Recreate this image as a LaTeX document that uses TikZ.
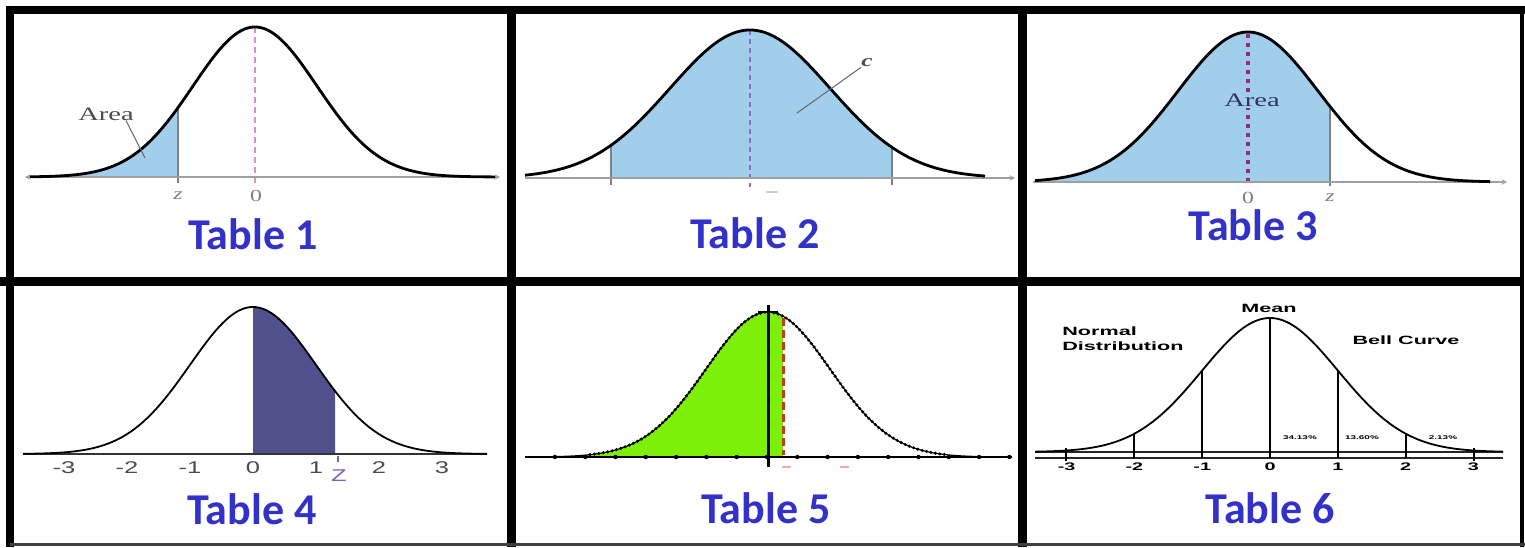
\documentclass[tikz,border=0pt]{standalone}
\usepackage{fontspec}
\setmainfont{Liberation Serif}
\setsansfont{Liberation Sans}
\newfontfamily\tablefont{Carlito}

\definecolor{tableblue}{RGB}{50,50,200}
\definecolor{areablue}{RGB}{160,206,235}
\definecolor{slatefill}{RGB}{80,80,140}
\definecolor{limefill}{RGB}{125,240,10}
\definecolor{pinkline}{RGB}{225,140,210}
\definecolor{violetline}{RGB}{140,110,200}
\definecolor{plumline}{RGB}{150,40,140}
\definecolor{zviolet}{RGB}{110,100,190}
\definecolor{redline}{RGB}{190,60,35}

\begin{document}
\begin{tikzpicture}[x=1pt, y=-1pt, >=stealth,
    declare function={bell(\x,\m,\s)=exp(-0.5*((\x-\m)/\s)^2);},
    curve/.style={line width=2.8pt, line join=round},
    thincurve/.style={line width=1.8pt, line join=round},
    axis/.style={line width=1.4pt, gray!75},
    zline/.style={line width=1.3pt, gray},
    pointer/.style={line width=1pt, gray!80!black},
    serif/.style={font=\fontsize{19}{20}\selectfont, text=black!70, xscale=1.5, inner sep=0pt},
    small/.style={font=\fontsize{17}{18}\selectfont, text=gray, xscale=1.4, inner sep=0pt},
    ticklab/.style={font=\sffamily\fontsize{17}{18}\selectfont, text=black!70, xscale=1.5, inner sep=0pt},
    boldlab/.style={font=\sffamily\bfseries\fontsize{12}{13}\selectfont, xscale=1.8, inner sep=0pt},
    title/.style={font=\tablefont\bfseries\fontsize{44}{50}\selectfont, text=tableblue, anchor=base, inner sep=0pt}]

    \useasboundingbox (0,0) rectangle (1525,547);
    \fill[white] (0,0) rectangle (1525,547);

    % Table 1: left tail up to z
    \fill[areablue] (25,177) -- plot[domain=25:178, samples=60] (\x,{177-150*bell(\x,255,62)}) -- (178,177) -- cycle;
    \draw[zline] (178,183) -- (178,{177-150*bell(178,255,62)});
    \draw[pinkline, line width=1.6pt, dash pattern=on 6pt off 4pt] (255,27) -- (255,186);
    \draw[axis, <->] (25,177) -- (500,177);
    \draw[curve] plot[domain=30:495, samples=150] (\x,{177-150*bell(\x,255,62)});
    \node[serif] (area1) at (106,114) {Area};
    \coordinate (area1tip) at (145,158);
    \draw[pointer] ([xshift=20pt]area1.south) -- (area1tip);
    \node[small, font=\itshape\fontsize{17}{18}\selectfont] (z1) at (178,196) {z};
    \node[small] (zero1) at (256,196) {0};
    \node[title] (table1) at (253,249) {Table 1};

    % Table 2: middle area c
    \fill[areablue] (611,178) -- plot[domain=611:892, samples=80] (\x,{178-148*bell(\x,750,80)}) -- (892,178) -- cycle;
    \draw[zline] (611,185) -- (611,{178-148*bell(611,750,80)});
    \draw[zline] (892,185) -- (892,{178-148*bell(892,750,80)});
    \draw[violetline, line width=1.8pt, dash pattern=on 5pt off 4pt] (750,30) -- (750,187);
    \draw[axis, ->] (525,178) -- (1015,178);
    \draw[curve] plot[domain=525:985, samples=150] (\x,{178-148*bell(\x,750,80)});
    \node[serif, font=\itshape\bfseries\fontsize{17}{18}\selectfont] (c2) at (867,63) {c};
    \coordinate (c2tip) at (797,113);
    \draw[pointer] (c2.south west) -- (c2tip);
    \draw[gray!40, line width=1.5pt] (766,192) -- (778,192);
    \node[title] (table2) at (755,248) {Table 2};

    % Table 3: everything left of z
    \fill[areablue] (1033,182) -- plot[domain=1033:1330, samples=90] (\x,{182-150*bell(\x,1248,70)}) -- (1330,182) -- cycle;
    \draw[zline] (1330,186) -- (1330,{182-150*bell(1330,1248,70)});
    \draw[plumline, line width=3.2pt, dash pattern=on 4pt off 5pt] (1248,34) -- (1248,185);
    \draw[axis, ->] (1033,182) -- (1507,182);
    \draw[curve] plot[domain=1035:1490, samples=150] (\x,{182-150*bell(\x,1248,70)});
    \node[serif, fill=areablue, inner sep=2pt, text=black!70!blue!60!gray] (area3) at (1252,100) {Area};
    \node[small] (zero3) at (1248,198) {0};
    \node[small, font=\itshape\fontsize{17}{18}\selectfont] (z3) at (1330,198) {z};
    \node[title] (table3) at (1253,240) {Table 3};

    % Table 4: from 0 to z
    \fill[slatefill] (253,454) -- plot[domain=253:335, samples=40] (\x,{454-147*bell(\x,253,63)}) -- (335,454) -- cycle;
    \draw[black!80, line width=2.2pt] (23,454) -- (487,454);
    \draw[thincurve] plot[domain=23:487, samples=150] (\x,{454-147*bell(\x,253,63)});
    \foreach \k in {-3,...,3}
        \node[ticklab] (t4\k) at (253+63*\k,468) {\k};
    \draw[zviolet, line width=1.2pt] (338,456) -- (338,462);
    \node[ticklab, text=zviolet] (z4) at (339,476) {Z};
    \node[title] (table4) at (252,524) {Table 4};

    % Table 5: shaded left of the dashed line
    \fill[limefill] (525,457) -- plot[domain=525:783, samples=90] (\x,{457-145*bell(\x,768,62)}) -- (783,457) -- cycle;
    \draw[line width=1.2pt] plot[domain=525:1012, samples=150] (\x,{457-145*bell(\x,768,62)});
    \draw[line width=3.4pt, line cap=round, dash pattern=on 0pt off 4.5pt] plot[domain=590:945, samples=100] (\x,{457-145*bell(\x,768,62)});
    \draw[line width=2.6pt] (525,457) -- (1012,457);
    \foreach \k in {-7,...,8}
        \fill (767+30.3*\k,457) circle (2.2pt);
    \draw[redline, line width=3pt, dash pattern=on 8pt off 4pt] (783,318) -- (783,455);
    \draw[line width=3pt] (768,305) -- (768,467);
    \draw[line width=2pt] (758,312) -- (778,312);
    \draw[redline!40, line width=1.5pt] (782,467) -- (791,467);
    \draw[redline!40, line width=1.5pt] (840,467) -- (849,467);
    \node[title] (table5) at (766,523) {Table 5};

    % Table 6: bell curve with sigma lines
    \draw[black!85, line width=1.8pt] (1035,452) -- (1503,452);
    \draw[black!85, line width=1.8pt] (1035,458) -- (1503,458);
    \draw[thincurve] plot[domain=1035:1503, samples=150] (\x,{452-134*bell(\x,1270,68)});
    \foreach \k in {-2,...,2}
        \draw[line width=1.8pt] (1270+68*\k,458) -- (1270+68*\k,{452-134*bell(1270+68*\k,1270,68)});
    \foreach \k in {-3,3}
        \draw[line width=1.8pt] (1270+68*\k,448) -- (1270+68*\k,461);
    \foreach \k in {-3,...,3}
        \node[boldlab, font=\sffamily\bfseries\fontsize{11}{12}\selectfont] (t6\k) at (1270+67.8*\k,467) {\k};
    \node[boldlab] (mean6) at (1269,308) {Mean};
    \node[boldlab, align=left, anchor=north west, font=\sffamily\bfseries\fontsize{12}{14.5}\selectfont] (normal6) at (1062,327) {Normal\\Distribution};
    \node[boldlab] (bell6) at (1406,340) {Bell Curve};
    \node[boldlab, font=\sffamily\bfseries\fontsize{5.5}{6}\selectfont] (p1) at (1300,438) {34.13\%};
    \node[boldlab, font=\sffamily\bfseries\fontsize{5.5}{6}\selectfont] (p2) at (1362,438) {13.60\%};
    \node[boldlab, font=\sffamily\bfseries\fontsize{5.5}{6}\selectfont] (p3) at (1443,438) {2.13\%};
    \node[title] (table6) at (1270,523) {Table 6};

    % Frames
    \draw[line width=8pt] (6,10) -- (1525,10);
    \draw[line width=8pt] (10,6) -- (10,547);
    \draw[line width=9pt] (0,281) -- (1522,281);
    \draw[line width=9pt] (511.5,6) -- (511.5,547);
    \draw[line width=9pt] (1022.5,6) -- (1022.5,547);
    \draw[line width=4pt] (1522,6) -- (1522,547);
    \draw[black!75, line width=3pt] (10,544) -- (1525,544);
\end{tikzpicture}
\end{document}
